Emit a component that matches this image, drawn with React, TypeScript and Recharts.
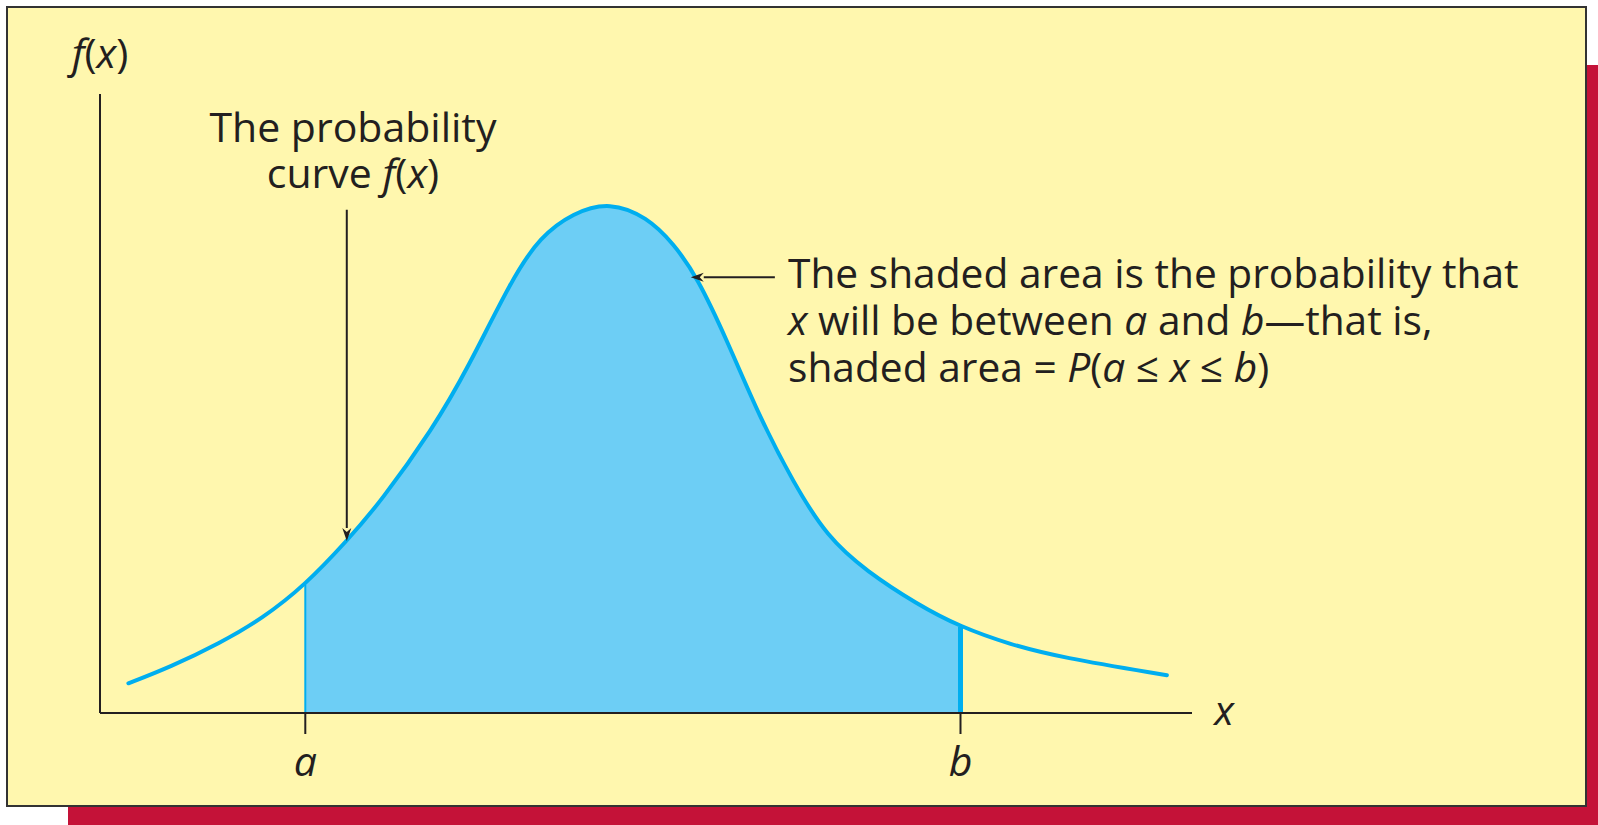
import {
  ComposedChart,
  Area,
  Line,
  XAxis,
  YAxis,
  ReferenceLine,
} from "recharts";

// Density curve, read as (x, f(x)) pairs on a 0–100 scale for both axes
const curveX = [
  2.6, 6.4, 11.0, 14.9, 18.8, 22.6, 25.7, 30.5, 33.6, 37.8, 40.3, 43.3, 46.7,
  50.1, 52.5, 54.7, 57.4, 60.4, 63.5, 66.6, 70.2, 74.8, 78.8, 83.3, 87.9, 97.7,
];
const curveY = [
  4.8, 7.4, 11.3, 15.3, 20.7, 27.8, 34.1, 46.0, 55.4, 70.4, 76.9, 80.8, 82.6,
  80.1, 75.9, 70.4, 60.3, 47.8, 37.2, 28.4, 22.9, 17.6, 13.9, 11.1, 9.0, 6.1,
];

// Interval bounds and their axis labels
const boundValues = [18.8, 78.8];
const boundLabels = ["a", "b"];

// Callout arrows: [tailX, tailY, tipX, tipY]
const curveArrow = [22.6, 81.3, 22.6, 27.8];
const areaArrow = [61.8, 70.4, 54.1, 70.4];

const curve = curveX.map((x, i) => ({ x, y: curveY[i] }));
const shaded = curve.filter(
  (p) => p.x >= boundValues[0] && p.x <= boundValues[1]
);
const yAt = (x: number) => curve.find((p) => p.x === x)?.y ?? 0;

const INK = "#231f20";
const BLUE = "#00aeef";
const FONT = "'Open Sans', sans-serif";

const ArrowShape = (props: any) => {
  const { x1, y1, x2, y2 } = props;
  const ang = Math.atan2(y2 - y1, x2 - x1);
  const len = 13;
  const half = 4.5;
  const bx = x2 - len * Math.cos(ang);
  const by = y2 - len * Math.sin(ang);
  const pts = [
    `${x2},${y2}`,
    `${bx - half * Math.sin(ang)},${by + half * Math.cos(ang)}`,
    `${x2 - (len - 4) * Math.cos(ang)},${y2 - (len - 4) * Math.sin(ang)}`,
    `${bx + half * Math.sin(ang)},${by - half * Math.cos(ang)}`,
  ].join(" ");
  return (
    <g>
      <line x1={x1} y1={y1} x2={bx} y2={by} stroke={INK} strokeWidth={2} />
      <polygon points={pts} fill={INK} />
    </g>
  );
};

const BoundTick = ({ x, y, payload }: any) => (
  <text
    x={x}
    y={y}
    dy={40}
    textAnchor="middle"
    fontFamily={FONT}
    fontStyle="italic"
    fontSize={41}
    fill={INK}
  >
    {boundLabels[boundValues.indexOf(payload.value)]}
  </text>
);

const It = ({ children }: { children: string }) => (
  <tspan fontStyle="italic">{children}</tspan>
);

export default function App() {
  return (
    <div
      style={{
        position: "fixed",
        top: 0,
        left: 0,
        width: 1598,
        height: 825,
        background: "#fff",
        overflow: "hidden",
      }}
    >
      {/* drop shadow */}
      <div
        style={{
          position: "absolute",
          left: 68,
          top: 65,
          right: 0,
          bottom: 0,
          background: "#c41238",
        }}
      />
      {/* panel */}
      <div
        style={{
          position: "absolute",
          left: 6,
          top: 6,
          width: 1577,
          height: 797,
          background: "#fff7ae",
          border: "2px solid #333",
        }}
      />

      <div style={{ position: "absolute", left: 0, top: 0 }}>
        <ComposedChart
          width={1598}
          height={825}
          margin={{ top: 94, right: 406, bottom: 52, left: 90 }}
        >
          <XAxis
            type="number"
            dataKey="x"
            domain={[0, 100]}
            ticks={boundValues}
            height={60}
            tickSize={21}
            tick={<BoundTick />}
            tickLine={{ stroke: INK, strokeWidth: 2 }}
            axisLine={{ stroke: INK, strokeWidth: 2 }}
            allowDataOverflow
          />
          <YAxis
            type="number"
            dataKey="y"
            domain={[0, 100]}
            width={10}
            tick={false}
            tickLine={false}
            axisLine={{ stroke: INK, strokeWidth: 2 }}
            allowDataOverflow
          />
          <Area
            data={shaded}
            dataKey="y"
            type="basis"
            fill="#6dcef5"
            fillOpacity={1}
            stroke="none"
            isAnimationActive={false}
          />
          <ReferenceLine
            segment={[
              { x: boundValues[0], y: 0 },
              { x: boundValues[0], y: yAt(boundValues[0]) },
            ]}
            stroke={BLUE}
            strokeWidth={2}
          />
          <ReferenceLine
            segment={[
              { x: boundValues[1], y: 0 },
              { x: boundValues[1], y: yAt(boundValues[1]) },
            ]}
            stroke={BLUE}
            strokeWidth={5}
          />
          <Line
            data={curve}
            dataKey="y"
            type="basis"
            stroke={BLUE}
            strokeWidth={4}
            strokeLinecap="round"
            dot={false}
            activeDot={false}
            isAnimationActive={false}
          />
          <ReferenceLine
            segment={[
              { x: curveArrow[0], y: curveArrow[1] },
              { x: curveArrow[2], y: curveArrow[3] },
            ]}
            shape={ArrowShape}
          />
          <ReferenceLine
            segment={[
              { x: areaArrow[0], y: areaArrow[1] },
              { x: areaArrow[2], y: areaArrow[3] },
            ]}
            shape={ArrowShape}
          />
        </ComposedChart>
      </div>

      {/* labels and callout text */}
      <svg
        width={1598}
        height={825}
        style={{ position: "absolute", left: 0, top: 0, pointerEvents: "none" }}
        fontFamily={FONT}
        fontSize={41}
        fill={INK}
      >
        <text x={100} y={68} textAnchor="middle">
          <It>f</It>(<It>x</It>)
        </text>
        <text x={1224} y={725} textAnchor="middle" fontStyle="italic">
          x
        </text>
        <text x={353} y={142} textAnchor="middle">
          The probability
        </text>
        <text x={353} y={188} textAnchor="middle">
          curve <It>f</It>(<It>x</It>)
        </text>
        <text x={788} y={288} fontSize={40.7}>
          The shaded area is the probability that
        </text>
        <text x={788} y={335} fontSize={40.7}>
          <It>x</It> will be between <It>a</It> and <It>b</It>—that is,
        </text>
        <text x={788} y={382} fontSize={40.7}>
          shaded area = <It>P</It>(<It>a</It> ≤ <It>x</It> ≤ <It>b</It>)
        </text>
      </svg>
    </div>
  );
}
